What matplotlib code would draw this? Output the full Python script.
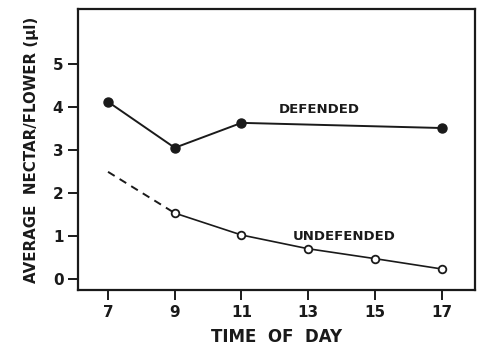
import matplotlib.pyplot as plt

# time of day (hours)
hours = [7, 9, 11, 13, 15, 17]
def_hours = [7, 9, 11, 17]
def_nectar = [4.12, 3.05, 3.63, 3.51]
# undefended: first segment dashed (estimated), rest measured
undef_dash_hours = [7, 9]
undef_dash_nectar = [2.49, 1.53]
undef_hours = [9, 11, 13, 15, 17]
undef_nectar = [1.53, 1.02, 0.70, 0.47, 0.23]
yticks = [0, 1, 2, 3, 4, 5]

fig = plt.figure(figsize=(4.79, 3.46), dpi=100)
ax = fig.add_axes([78/479, 1 - 290/346, (475-78)/479, (290-9)/346])

ax.plot(undef_dash_hours, undef_dash_nectar, color='#1a1a1a', lw=1.4,
        dashes=(4, 3))
ax.plot(def_hours, def_nectar, color='#1a1a1a', lw=1.4, marker='o',
        ms=6.5, mfc='#1a1a1a', mec='#1a1a1a')
ax.plot(undef_hours, undef_nectar, color='#1a1a1a', lw=1.2, marker='o',
        ms=5.5, mfc='white', mec='#1a1a1a', mew=1.3)

ax.text(13.33, 3.93, 'DEFENDED', ha='center', va='center',
        fontsize=9.5, fontweight='semibold', color='#1a1a1a')
ax.text(14.09, 0.98, 'UNDEFENDED', ha='center', va='center',
        fontsize=9.5, fontweight='semibold', color='#1a1a1a')

ax.set_xlim(6.1, 18.0)
ax.set_ylim(-0.26, 6.28)
ax.set_xticks(hours)
ax.set_yticks(yticks)
ax.tick_params(direction='out', length=7, width=1.4, colors='#1a1a1a',
               labelsize=11)
for lab in ax.get_xticklabels() + ax.get_yticklabels():
    lab.set_fontweight('bold')
for s in ax.spines.values():
    s.set_linewidth(1.6)
    s.set_color('#1a1a1a')

ax.set_xlabel('TIME  OF  DAY', fontsize=12, fontweight='bold',
              color='#1a1a1a', labelpad=6)
ax.set_ylabel('AVERAGE  NECTAR/FLOWER (µl)', fontsize=10.8, fontweight='bold',
              color='#1a1a1a', labelpad=10)

fig.savefig('out.png', dpi=100)
